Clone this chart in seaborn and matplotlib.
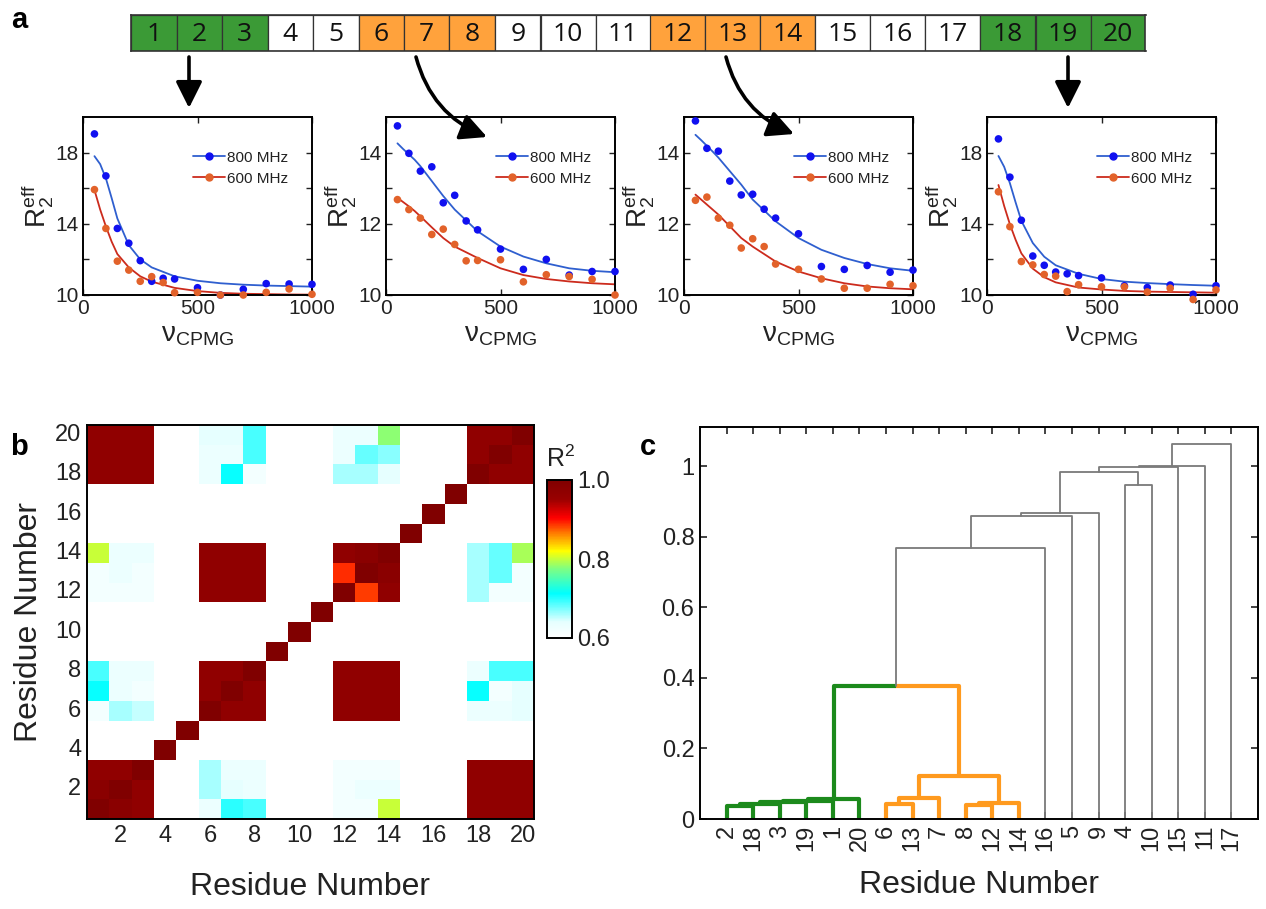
import numpy as np
import pandas as pd
import matplotlib
matplotlib.use("Agg")
import matplotlib.pyplot as plt
import seaborn as sns
from matplotlib.colors import LinearSegmentedColormap
from matplotlib.lines import Line2D
from matplotlib.patches import FancyArrowPatch
from matplotlib.ticker import FixedLocator

# ---------------- data ----------------
residues = [1, 2, 3, 4, 5, 6, 7, 8, 9, 10, 11, 12, 13, 14, 15, 16, 17, 18, 19, 20]
bar_groups = ['g', 'g', 'g', 'w', 'w', 'o', 'o', 'o', 'w', 'w',
              'w', 'o', 'o', 'o', 'w', 'w', 'w', 'g', 'g', 'g']

# CPMG dispersion profiles (residues 2, 7, 13, 19)
nu_cpmg = [50, 100, 150, 200, 250, 300, 350, 400, 500, 600, 700, 800, 900, 1000]
r2_800 = [
    [19.05, 16.69, 13.74, 12.91, 11.93, 10.77, 10.94, 10.90, 10.41, 10.00, 10.32, 10.64, 10.62, 10.60],
    [14.75, 13.98, 13.48, 13.60, 12.59, 12.80, 12.08, 11.83, 11.29, 10.72, 11.00, 10.56, 10.66, 10.66],
    [14.89, 14.12, 14.04, 13.20, 12.81, 12.83, 12.41, 12.16, 11.72, 10.80, 10.72, 10.83, 10.64, 10.70],
    [18.77, 16.62, 14.20, 12.19, 11.67, 11.29, 11.19, 11.09, 10.96, 10.52, 10.42, 10.56, 10.04, 10.52],
]
r2_600 = [
    [15.92, 13.74, 11.90, 11.40, 10.77, 11.03, 10.70, 10.13, 10.15, 10.00, 10.00, 10.15, 10.34, 10.04],
    [12.68, 12.40, 12.16, 11.70, 11.85, 11.42, 10.96, 10.97, 10.99, 10.37, 10.57, 10.52, 10.44, 10.00],
    [12.66, 12.75, 12.16, 11.96, 11.32, 11.58, 11.36, 10.87, 10.72, 10.45, 10.19, 10.19, 10.30, 10.26],
    [15.80, 13.84, 11.88, 11.69, 11.15, 11.06, 10.19, 10.58, 10.46, 10.46, 10.17, 10.38, 9.75, 10.29],
]
fit_nu = [50, 75, 100, 125, 150, 200, 250, 300, 400, 500, 600, 700, 800, 900, 1000]
fit_800 = [
    [17.80, 17.35, 16.55, 15.45, 14.30, 12.80, 12.00, 11.55, 11.05, 10.80, 10.66, 10.58, 10.53, 10.50, 10.47],
    [14.26, 14.10, 13.95, 13.80, 13.62, 13.20, 12.78, 12.40, 11.79, 11.36, 11.08, 10.89, 10.75, 10.68, 10.64],
    [14.50, 14.35, 14.19, 14.03, 13.86, 13.48, 13.10, 12.68, 12.07, 11.60, 11.27, 11.04, 10.87, 10.75, 10.68],
    [17.81, 17.20, 16.28, 15.20, 14.17, 12.92, 12.15, 11.67, 11.19, 10.90, 10.75, 10.67, 10.61, 10.56, 10.52],
]
fit_600 = [
    [15.90, 14.80, 13.85, 13.00, 12.30, 11.55, 11.05, 10.75, 10.40, 10.22, 10.12, 10.07, 10.05, 10.03, 10.02],
    [12.73, 12.61, 12.49, 12.36, 12.21, 11.90, 11.60, 11.36, 11.04, 10.75, 10.56, 10.45, 10.38, 10.33, 10.30],
    [12.82, 12.68, 12.54, 12.40, 12.26, 11.93, 11.60, 11.36, 10.94, 10.66, 10.47, 10.33, 10.24, 10.19, 10.16],
    [16.18, 15.00, 13.97, 13.10, 12.34, 11.48, 11.00, 10.71, 10.42, 10.31, 10.23, 10.19, 10.17, 10.15, 10.13],
]
panel_ylims = [(10, 20), (10, 15), (10, 15), (10, 20)]
panel_yticks = [[10, 12, 14, 16, 18], [10, 11, 12, 13, 14], [10, 11, 12, 13, 14], [10, 12, 14, 16, 18]]
panel_ylabels = [['10', '', '14', '', '18'], ['10', '', '12', '', '14'],
                 ['10', '', '12', '', '14'], ['10', '', '14', '', '18']]

# pairwise R^2 matrix (row = residue 1..20, col = residue 1..20)
r2_rows = [
    [1.00, 0.98, 0.97, 0.60, 0.60, 0.63, 0.70, 0.69, 0.60, 0.60, 0.60, 0.62, 0.62, 0.80, 0.60, 0.60, 0.60, 0.97, 0.97, 0.97],
    [0.98, 1.00, 0.97, 0.60, 0.60, 0.66, 0.64, 0.63, 0.60, 0.60, 0.60, 0.62, 0.63, 0.63, 0.60, 0.60, 0.60, 0.97, 0.97, 0.97],
    [0.97, 0.97, 1.00, 0.60, 0.60, 0.66, 0.63, 0.63, 0.60, 0.60, 0.60, 0.62, 0.62, 0.62, 0.60, 0.60, 0.60, 0.97, 0.97, 0.97],
    [0.60, 0.60, 0.60, 1.00, 0.60, 0.60, 0.60, 0.60, 0.60, 0.60, 0.60, 0.60, 0.60, 0.60, 0.60, 0.60, 0.60, 0.60, 0.60, 0.60],
    [0.60, 0.60, 0.60, 0.60, 1.00, 0.60, 0.60, 0.60, 0.60, 0.60, 0.60, 0.60, 0.60, 0.60, 0.60, 0.60, 0.60, 0.60, 0.60, 0.60],
    [0.62, 0.66, 0.65, 0.60, 0.60, 1.00, 0.97, 0.97, 0.60, 0.60, 0.60, 0.97, 0.97, 0.97, 0.60, 0.60, 0.60, 0.63, 0.63, 0.64],
    [0.71, 0.63, 0.62, 0.60, 0.60, 0.97, 1.00, 0.97, 0.60, 0.60, 0.60, 0.97, 0.97, 0.97, 0.60, 0.60, 0.60, 0.71, 0.62, 0.64],
    [0.69, 0.63, 0.63, 0.60, 0.60, 0.97, 0.97, 1.00, 0.60, 0.60, 0.60, 0.97, 0.97, 0.97, 0.60, 0.60, 0.60, 0.63, 0.69, 0.69],
    [0.60, 0.60, 0.60, 0.60, 0.60, 0.60, 0.60, 0.60, 1.00, 0.60, 0.60, 0.60, 0.60, 0.60, 0.60, 0.60, 0.60, 0.60, 0.60, 0.60],
    [0.60, 0.60, 0.60, 0.60, 0.60, 0.60, 0.60, 0.60, 0.60, 1.00, 0.60, 0.60, 0.60, 0.60, 0.60, 0.60, 0.60, 0.60, 0.60, 0.60],
    [0.60, 0.60, 0.60, 0.60, 0.60, 0.60, 0.60, 0.60, 0.60, 0.60, 1.00, 0.60, 0.60, 0.60, 0.60, 0.60, 0.60, 0.60, 0.60, 0.60],
    [0.62, 0.62, 0.62, 0.60, 0.60, 0.97, 0.97, 0.97, 0.60, 0.60, 0.60, 1.00, 0.885, 0.97, 0.60, 0.60, 0.60, 0.66, 0.62, 0.62],
    [0.62, 0.63, 0.62, 0.60, 0.60, 0.97, 0.97, 0.97, 0.60, 0.60, 0.60, 0.89, 1.00, 0.98, 0.60, 0.60, 0.60, 0.66, 0.68, 0.62],
    [0.80, 0.63, 0.63, 0.60, 0.60, 0.97, 0.97, 0.97, 0.60, 0.60, 0.60, 0.97, 0.98, 1.00, 0.60, 0.60, 0.60, 0.66, 0.68, 0.79],
    [0.60, 0.60, 0.60, 0.60, 0.60, 0.60, 0.60, 0.60, 0.60, 0.60, 0.60, 0.60, 0.60, 0.60, 1.00, 0.60, 0.60, 0.60, 0.60, 0.60],
    [0.60, 0.60, 0.60, 0.60, 0.60, 0.60, 0.60, 0.60, 0.60, 0.60, 0.60, 0.60, 0.60, 0.60, 0.60, 1.00, 0.60, 0.60, 0.60, 0.60],
    [0.60, 0.60, 0.60, 0.60, 0.60, 0.60, 0.60, 0.60, 0.60, 0.60, 0.60, 0.60, 0.60, 0.60, 0.60, 0.60, 1.00, 0.60, 0.60, 0.60],
    [0.97, 0.97, 0.97, 0.60, 0.60, 0.63, 0.71, 0.62, 0.60, 0.60, 0.60, 0.66, 0.66, 0.64, 0.60, 0.60, 0.60, 1.00, 0.97, 0.97],
    [0.97, 0.97, 0.97, 0.60, 0.60, 0.63, 0.63, 0.69, 0.60, 0.60, 0.60, 0.63, 0.68, 0.67, 0.60, 0.60, 0.60, 0.97, 1.00, 0.97],
    [0.97, 0.97, 0.97, 0.60, 0.60, 0.64, 0.64, 0.69, 0.60, 0.60, 0.60, 0.63, 0.63, 0.78, 0.60, 0.60, 0.60, 0.97, 0.97, 1.00],
]

# dendrogram: leaf order and merges (new node id = 21 + merge index)
leaf_order = [2, 18, 3, 19, 1, 20, 6, 13, 7, 8, 12, 14, 16, 5, 9, 4, 10, 15, 11, 17]
link_left = [2, 21, 22, 23, 24, 6, 26, 8, 28, 27, 25, 31, 32, 33, 4, 34, 36, 37, 38]
link_right = [18, 3, 19, 1, 20, 13, 7, 12, 14, 29, 30, 16, 5, 9, 10, 35, 15, 11, 17]
link_height = [0.038, 0.042, 0.048, 0.052, 0.057, 0.042, 0.060, 0.040, 0.046, 0.123,
               0.376, 0.768, 0.860, 0.868, 0.947, 0.985, 0.998, 1.000, 1.063]
link_group = ['g', 'g', 'g', 'g', 'g', 'o', 'o', 'o', 'o', 'o',
              'split', 'k', 'k', 'k', 'k', 'k', 'k', 'k', 'k']

# ---------------- style ----------------
sns.set_theme(style="white")
plt.rcParams['font.family'] = ['Liberation Sans', 'DejaVu Sans']
plt.rcParams['mathtext.fontset'] = 'custom'
plt.rcParams['mathtext.rm'] = 'Liberation Sans'
plt.rcParams['mathtext.it'] = 'Liberation Sans:italic'
plt.rcParams['mathtext.bf'] = 'Liberation Sans:bold'
ink = '#222222'
for key in ['text.color', 'axes.labelcolor', 'xtick.color', 'ytick.color']:
    plt.rcParams[key] = ink

W, H = 1266, 909
fig = plt.figure(figsize=(W / 100, H / 100), dpi=100)


def px_axes(left, top, width, height):
    return fig.add_axes([left / W, 1 - (top + height) / H, width / W, height / H])


def px(x, y):
    return (x / W, 1 - y / H)


def frame(ax, lw=1.4):
    for s in ax.spines.values():
        s.set_visible(True)
        s.set_color('black')
        s.set_linewidth(lw)


green_bar, orange_bar = '#3b9a36', '#ffa23c'
bar_colors = {'g': green_bar, 'o': orange_bar, 'w': 'white'}

# ---------------- panel a: residue strip ----------------
cell_w = [45.5 if r < 10 else 55.0 for r in residues]
cell_left = np.concatenate([[0], np.cumsum(cell_w)[:-1]])
ax_bar = px_axes(131, 15, sum(cell_w), 36)
ax_bar.barh(0.5, cell_w, left=cell_left, height=1.0,
            color=[bar_colors[g] for g in bar_groups], edgecolor='#333333', linewidth=0.9, align='center')
for r, x0, w in zip(residues, cell_left, cell_w):
    ax_bar.text(x0 + w / 2, 0.46, str(r), ha='center', va='center', fontsize=19,
                family=['Open Sans', 'DejaVu Sans'], color='#111111')
ax_bar.set_xlim(0, sum(cell_w))
ax_bar.set_ylim(0, 1)
ax_bar.set_xticks([])
ax_bar.set_yticks([])
frame(ax_bar, 1.2)
for s in ax_bar.spines.values():
    s.set_color('#333333')

# arrows from strip to panels
arrow_style = '-|>,head_length=0.8,head_width=0.4'
for (x0, y0), (x1, y1), rad in [((189, 57), (189, 108), 0.0), ((416, 57), (487, 137), 0.25),
                                 ((726, 57), (794, 134), 0.25), ((1068, 57), (1068, 108), 0.0)]:
    arr = FancyArrowPatch(px(x0, y0), px(x1, y1), transform=fig.transFigure,
                          arrowstyle=arrow_style, mutation_scale=20, lw=2.6, color='black',
                          connectionstyle=f'arc3,rad={rad}', shrinkA=0, shrinkB=0)
    fig.add_artist(arr)

# CPMG panels
blue_dot, blue_line = '#1010f0', '#2f5fcf'
red_dot, red_line = '#e2622a', '#cc2b1d'
panel_lefts = [83, 386, 684, 987]
for i, left in enumerate(panel_lefts):
    ax = px_axes(left, 117, 229, 178)
    sns.lineplot(x=fit_nu, y=fit_800[i], ax=ax, color=blue_line, linewidth=1.3)
    sns.lineplot(x=fit_nu, y=fit_600[i], ax=ax, color=red_line, linewidth=1.3)
    sns.scatterplot(x=nu_cpmg, y=r2_800[i], ax=ax, color=blue_dot, s=30, edgecolor='none',
                    clip_on=False, zorder=4)
    sns.scatterplot(x=nu_cpmg, y=r2_600[i], ax=ax, color=red_dot, s=30, edgecolor='none',
                    clip_on=False, zorder=4)
    ax.set_xlim(0, 1000)
    ax.set_ylim(*panel_ylims[i])
    ax.set_xticks([0, 500, 1000])
    ax.set_yticks(panel_yticks[i])
    ax.set_yticklabels(panel_ylabels[i])
    ax.tick_params(direction='in', length=4, width=1, top=True, right=True, bottom=True, left=True,
                   labelsize=15, pad=3)
    ax.set_xlabel('ν$_{\\mathrm{CPMG}}$', fontsize=20, labelpad=3)
    ax.set_ylabel('R$_2^{\\mathrm{eff}}$', fontsize=20, labelpad=0)
    frame(ax, 1.4)
    handles = [Line2D([], [], color=blue_line, lw=1.3, marker='o', ms=5, mfc=blue_dot, mec=blue_dot),
               Line2D([], [], color=red_line, lw=1.3, marker='o', ms=5, mfc=red_dot, mec=red_dot)]
    ax.legend(handles, ['800 MHz', '600 MHz'], loc='upper left', bbox_to_anchor=(0.48, 0.81),
              frameon=False, fontsize=11, handlelength=2.1, handletextpad=0.15,
              labelspacing=0.45, borderpad=0, borderaxespad=0)

# ---------------- panel b: R^2 heatmap ----------------
r2_cmap = LinearSegmentedColormap.from_list('r2', [
    (0.0, '#ffffff'), (0.1, '#e6ffff'), (0.28, '#00ffff'), (0.44, '#80ff80'),
    (0.55, '#ffff00'), (0.66, '#ff8000'), (0.76, '#ff0000'), (0.88, '#990000'), (1.0, '#800000')])
hm_df = pd.DataFrame(r2_rows, index=residues, columns=residues)
ax_b = px_axes(87, 425, 447, 394)
cax = px_axes(547, 480, 25, 158)
sns.heatmap(hm_df, ax=ax_b, cbar_ax=cax, cmap=r2_cmap, vmin=0.6, vmax=1.0,
            cbar_kws={'ticks': [0.6, 0.8, 1.0]})
ax_b.invert_yaxis()
even = residues[1::2]
ax_b.set_xticks([residues.index(r) + 0.5 for r in even])
ax_b.set_xticklabels([str(r) for r in even], rotation=0)
ax_b.set_yticks([residues.index(r) + 0.5 for r in even])
ax_b.set_yticklabels([str(r) for r in even], rotation=0)
ax_b.tick_params(direction='in', length=5, width=1.2, top=True, right=True, bottom=True, left=True,
                 labelsize=17, pad=4)
ax_b.set_xlabel('Residue Number', fontsize=23, labelpad=18)
ax_b.set_ylabel('Residue Number', fontsize=23, labelpad=8)
frame(ax_b, 1.4)

cb = ax_b.collections[0].colorbar
cb.outline.set_visible(True)
cb.outline.set_edgecolor('black')
cb.outline.set_linewidth(1.4)
cb.set_ticklabels(['0.6', '0.8', '1.0'])
cax.yaxis.set_minor_locator(FixedLocator([0.7, 0.9]))
cax.tick_params(which='both', direction='in', length=5, width=1.2, right=True, labelsize=17, pad=4)
fig.text(*px(546, 472), 'R$^2$', fontsize=18, ha='left', va='bottom')

# ---------------- panel c: dendrogram ----------------
ax_c = px_axes(700, 427, 558, 392)
node_x = {r: leaf_order.index(r) + 1 for r in leaf_order}
node_y = {r: 0.0 for r in leaf_order}
green_dn, orange_dn, grey_dn = '#1c8a1c', '#ff9a1e', '#7a7a7a'
thick, thin = 3.0, 1.3
for k, (a, b, h, grp) in enumerate(zip(link_left, link_right, link_height, link_group)):
    xa, xb = node_x[a], node_x[b]
    ya, yb = node_y[a], node_y[b]
    xm = (xa + xb) / 2
    if grp == 'split':
        ax_c.plot([xa, xa, xm], [ya, h, h], color=green_dn, lw=thick, solid_capstyle='butt')
        ax_c.plot([xm, xb, xb], [h, h, yb], color=orange_dn, lw=thick, solid_capstyle='butt')
    else:
        col = {'g': green_dn, 'o': orange_dn, 'k': grey_dn}[grp]
        lw = thin if grp == 'k' else thick
        ax_c.plot([xa, xa, xb, xb], [ya, h, h, yb], color=col, lw=lw)
    node_x[21 + k] = xm
    node_y[21 + k] = h
ax_c.set_xlim(0, 21)
ax_c.set_ylim(0, 1.112)
ax_c.set_xticks(range(1, 21))
ax_c.set_xticklabels([str(r) for r in leaf_order], rotation=90)
ax_c.set_yticks([0, 0.2, 0.4, 0.6, 0.8, 1.0])
ax_c.set_yticklabels(['0', '0.2', '0.4', '0.6', '0.8', '1'])
ax_c.tick_params(direction='in', length=5, width=1.2, top=True, right=True, bottom=True, left=True,
                 labelsize=17, pad=4)
ax_c.set_xlabel('Residue Number', fontsize=23, labelpad=14)
frame(ax_c, 1.4)

# panel letters
for letter, (x, y) in zip(['a', 'b', 'c'], [(19, 20), (19, 447), (648, 447)]):
    fig.text(*px(x, y), letter, fontsize=21, fontweight='bold', ha='center', va='center', color='black')

fig.savefig('out.png', dpi=100, facecolor='white')
